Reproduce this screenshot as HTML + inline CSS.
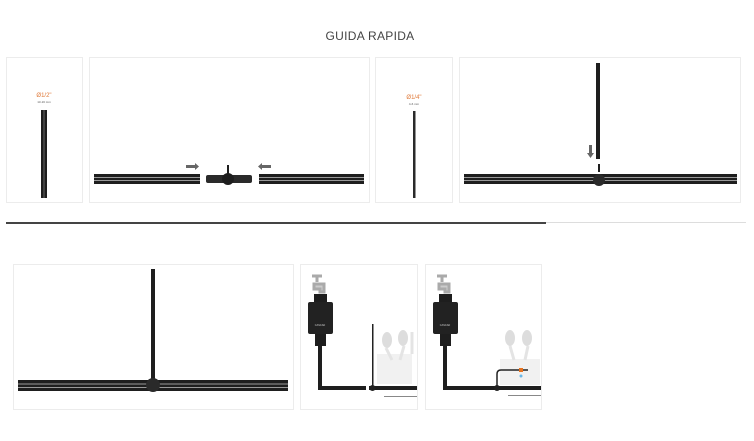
<!DOCTYPE html>
<html><head><meta charset="utf-8"><style>
html,body{margin:0;padding:0;background:#fff;}
svg{display:block;}
</style></head><body>
<svg width="754" height="441" viewBox="0 0 754 441" xmlns="http://www.w3.org/2000/svg" font-family="Liberation Sans, sans-serif">
<defs>
<g id="hp"><rect x="0" y="0" width="1" height="9" fill="#1e1e1e"/></g>
</defs>
<text x="370" y="40" text-anchor="middle" font-size="12" fill="#444" letter-spacing="0.3">GUIDA RAPIDA</text>
<g fill="none" stroke="#ececec" stroke-width="1">
<rect x="6.5" y="57.5" width="76" height="145"/>
<rect x="89.5" y="57.5" width="280" height="145"/>
<rect x="375.5" y="57.5" width="77" height="145"/>
<rect x="459.5" y="57.5" width="281" height="145"/>
<rect x="13.5" y="264.5" width="280" height="145"/>
<rect x="300.5" y="264.5" width="117" height="145"/>
<rect x="425.5" y="264.5" width="116" height="145"/>
</g>
<!-- divider -->
<rect x="6" y="222" width="540" height="2" fill="#444"/>
<rect x="546" y="222" width="200" height="1" fill="#ddd"/>

<!-- panel1 -->
<text x="44" y="97" text-anchor="middle" font-size="6" fill="#e07a3a">Ø1/2"</text>
<text x="44" y="103" text-anchor="middle" font-size="3" fill="#555">13-16 mm</text>
<rect x="41" y="110" width="6" height="88" fill="#1e1e1e"/>
<rect x="43.5" y="110" width="1" height="88" fill="#666"/>

<!-- panel2 -->
<g>
<rect x="94" y="174" width="106" height="10" fill="#1e1e1e"/>
<rect x="94" y="177" width="106" height="1" fill="#999"/>
<rect x="94" y="180" width="106" height="1" fill="#999"/>
<rect x="259" y="174" width="105" height="10" fill="#1e1e1e"/>
<rect x="259" y="177" width="105" height="1" fill="#999"/>
<rect x="259" y="180" width="105" height="1" fill="#999"/>
<rect x="206" y="175" width="46" height="8" rx="2" fill="#2a2a2a"/>
<circle cx="228" cy="179" r="6" fill="#1e1e1e"/>
<rect x="227" y="165" width="2" height="9" fill="#1e1e1e"/>
<polygon points="186,165 195,165 195,163 199,166.5 195,170 195,168 186,168" fill="#666"/>
<polygon points="271,165 262,165 262,163 258,166.5 262,170 262,168 271,168" fill="#666"/>
</g>

<!-- panel3 -->
<text x="414" y="99" text-anchor="middle" font-size="6" fill="#e07a3a">Ø1/4"</text>
<text x="414" y="105" text-anchor="middle" font-size="3" fill="#555">4-6 mm</text>
<rect x="413" y="111" width="2.5" height="87" fill="#2a2a2a"/>

<!-- panel4 -->
<rect x="464" y="174" width="273" height="10" fill="#1e1e1e"/>
<rect x="464" y="177" width="273" height="1" fill="#999"/>
<rect x="464" y="180" width="273" height="1" fill="#999"/>
<rect x="596" y="63" width="4" height="96" fill="#1e1e1e"/>
<rect x="598" y="164" width="2" height="8" fill="#1e1e1e"/>
<circle cx="599" cy="180" r="6" fill="#2a2a2a"/>
<polygon points="589,145 592,145 592,153 594,153 590.5,158 587,153 589,153" fill="#666"/>

<!-- panel5 -->
<rect x="18" y="380" width="270" height="11" fill="#1e1e1e"/>
<rect x="18" y="383.5" width="270" height="1" fill="#999"/>
<rect x="18" y="387" width="270" height="1" fill="#999"/>
<rect x="151" y="269" width="4" height="112" fill="#1e1e1e"/>
<circle cx="153" cy="385" r="7" fill="#2a2a2a"/>

<!-- panel6 -->
<g>
<path d="M312 276 h10 M317 276 v6 M314 284 h10 v8 h-4 v-3 h-6z" stroke="#aaa" stroke-width="3" fill="#ccc"/>
<rect x="314" y="294" width="13" height="8" fill="#1e1e1e"/>
<rect x="308" y="302" width="25" height="32" rx="2" fill="#222"/>
<text x="320" y="326" text-anchor="middle" font-size="2.5" fill="#ccc">CASCAD</text>
<rect x="315" y="334" width="11" height="12" fill="#1e1e1e"/>
<rect x="318" y="346" width="4" height="44" fill="#1e1e1e"/>
<rect x="318" y="386" width="48" height="4" fill="#1e1e1e"/>
<rect x="369" y="386" width="48" height="4" fill="#1e1e1e"/>
<rect x="372" y="324" width="1.5" height="62" fill="#222"/>
<circle cx="372.5" cy="388" r="3" fill="#222"/>
<rect x="377" y="354" width="35" height="30" fill="#f1f1f1"/>
<rect x="384" y="396" width="33" height="1" fill="#888"/>
<ellipse cx="387" cy="340" rx="5" ry="8" fill="#ddd"/>
<ellipse cx="403" cy="338" rx="5" ry="8" fill="#ddd"/>
<path d="M386 348 l6 12 M404 346 l-4 14 M412 332 v22" stroke="#e4e4e4" stroke-width="3"/>
</g>

<!-- panel7 -->
<g>
<path d="M437 276 h10 M442 276 v6 M439 284 h10 v8 h-4 v-3 h-6z" stroke="#aaa" stroke-width="3" fill="#ccc"/>
<rect x="439" y="294" width="13" height="8" fill="#1e1e1e"/>
<rect x="433" y="302" width="25" height="32" rx="2" fill="#222"/>
<text x="445" y="326" text-anchor="middle" font-size="2.5" fill="#ccc">CASCAD</text>
<rect x="440" y="334" width="11" height="12" fill="#1e1e1e"/>
<rect x="443" y="346" width="4" height="44" fill="#1e1e1e"/>
<rect x="443" y="386" width="98" height="4" fill="#1e1e1e"/>
<rect x="500" y="359" width="40" height="26" fill="#f1f1f1"/>
<path d="M497 388 v-14 q0 -4 4 -4 h27" stroke="#222" stroke-width="1.5" fill="none"/>
<circle cx="497" cy="388" r="3" fill="#222"/>
<rect x="519" y="368" width="4" height="4" fill="#e8731f"/>
<circle cx="521" cy="376" r="1.5" fill="#6ab7e6"/>
<rect x="508" y="395" width="33" height="1" fill="#888"/>
<ellipse cx="510" cy="338" rx="5" ry="8" fill="#ddd"/>
<ellipse cx="527" cy="338" rx="5" ry="8" fill="#ddd"/>
<path d="M510 346 l4 14 M528 346 l-3 14" stroke="#e4e4e4" stroke-width="3"/>
</g>
</svg>
</body></html>
